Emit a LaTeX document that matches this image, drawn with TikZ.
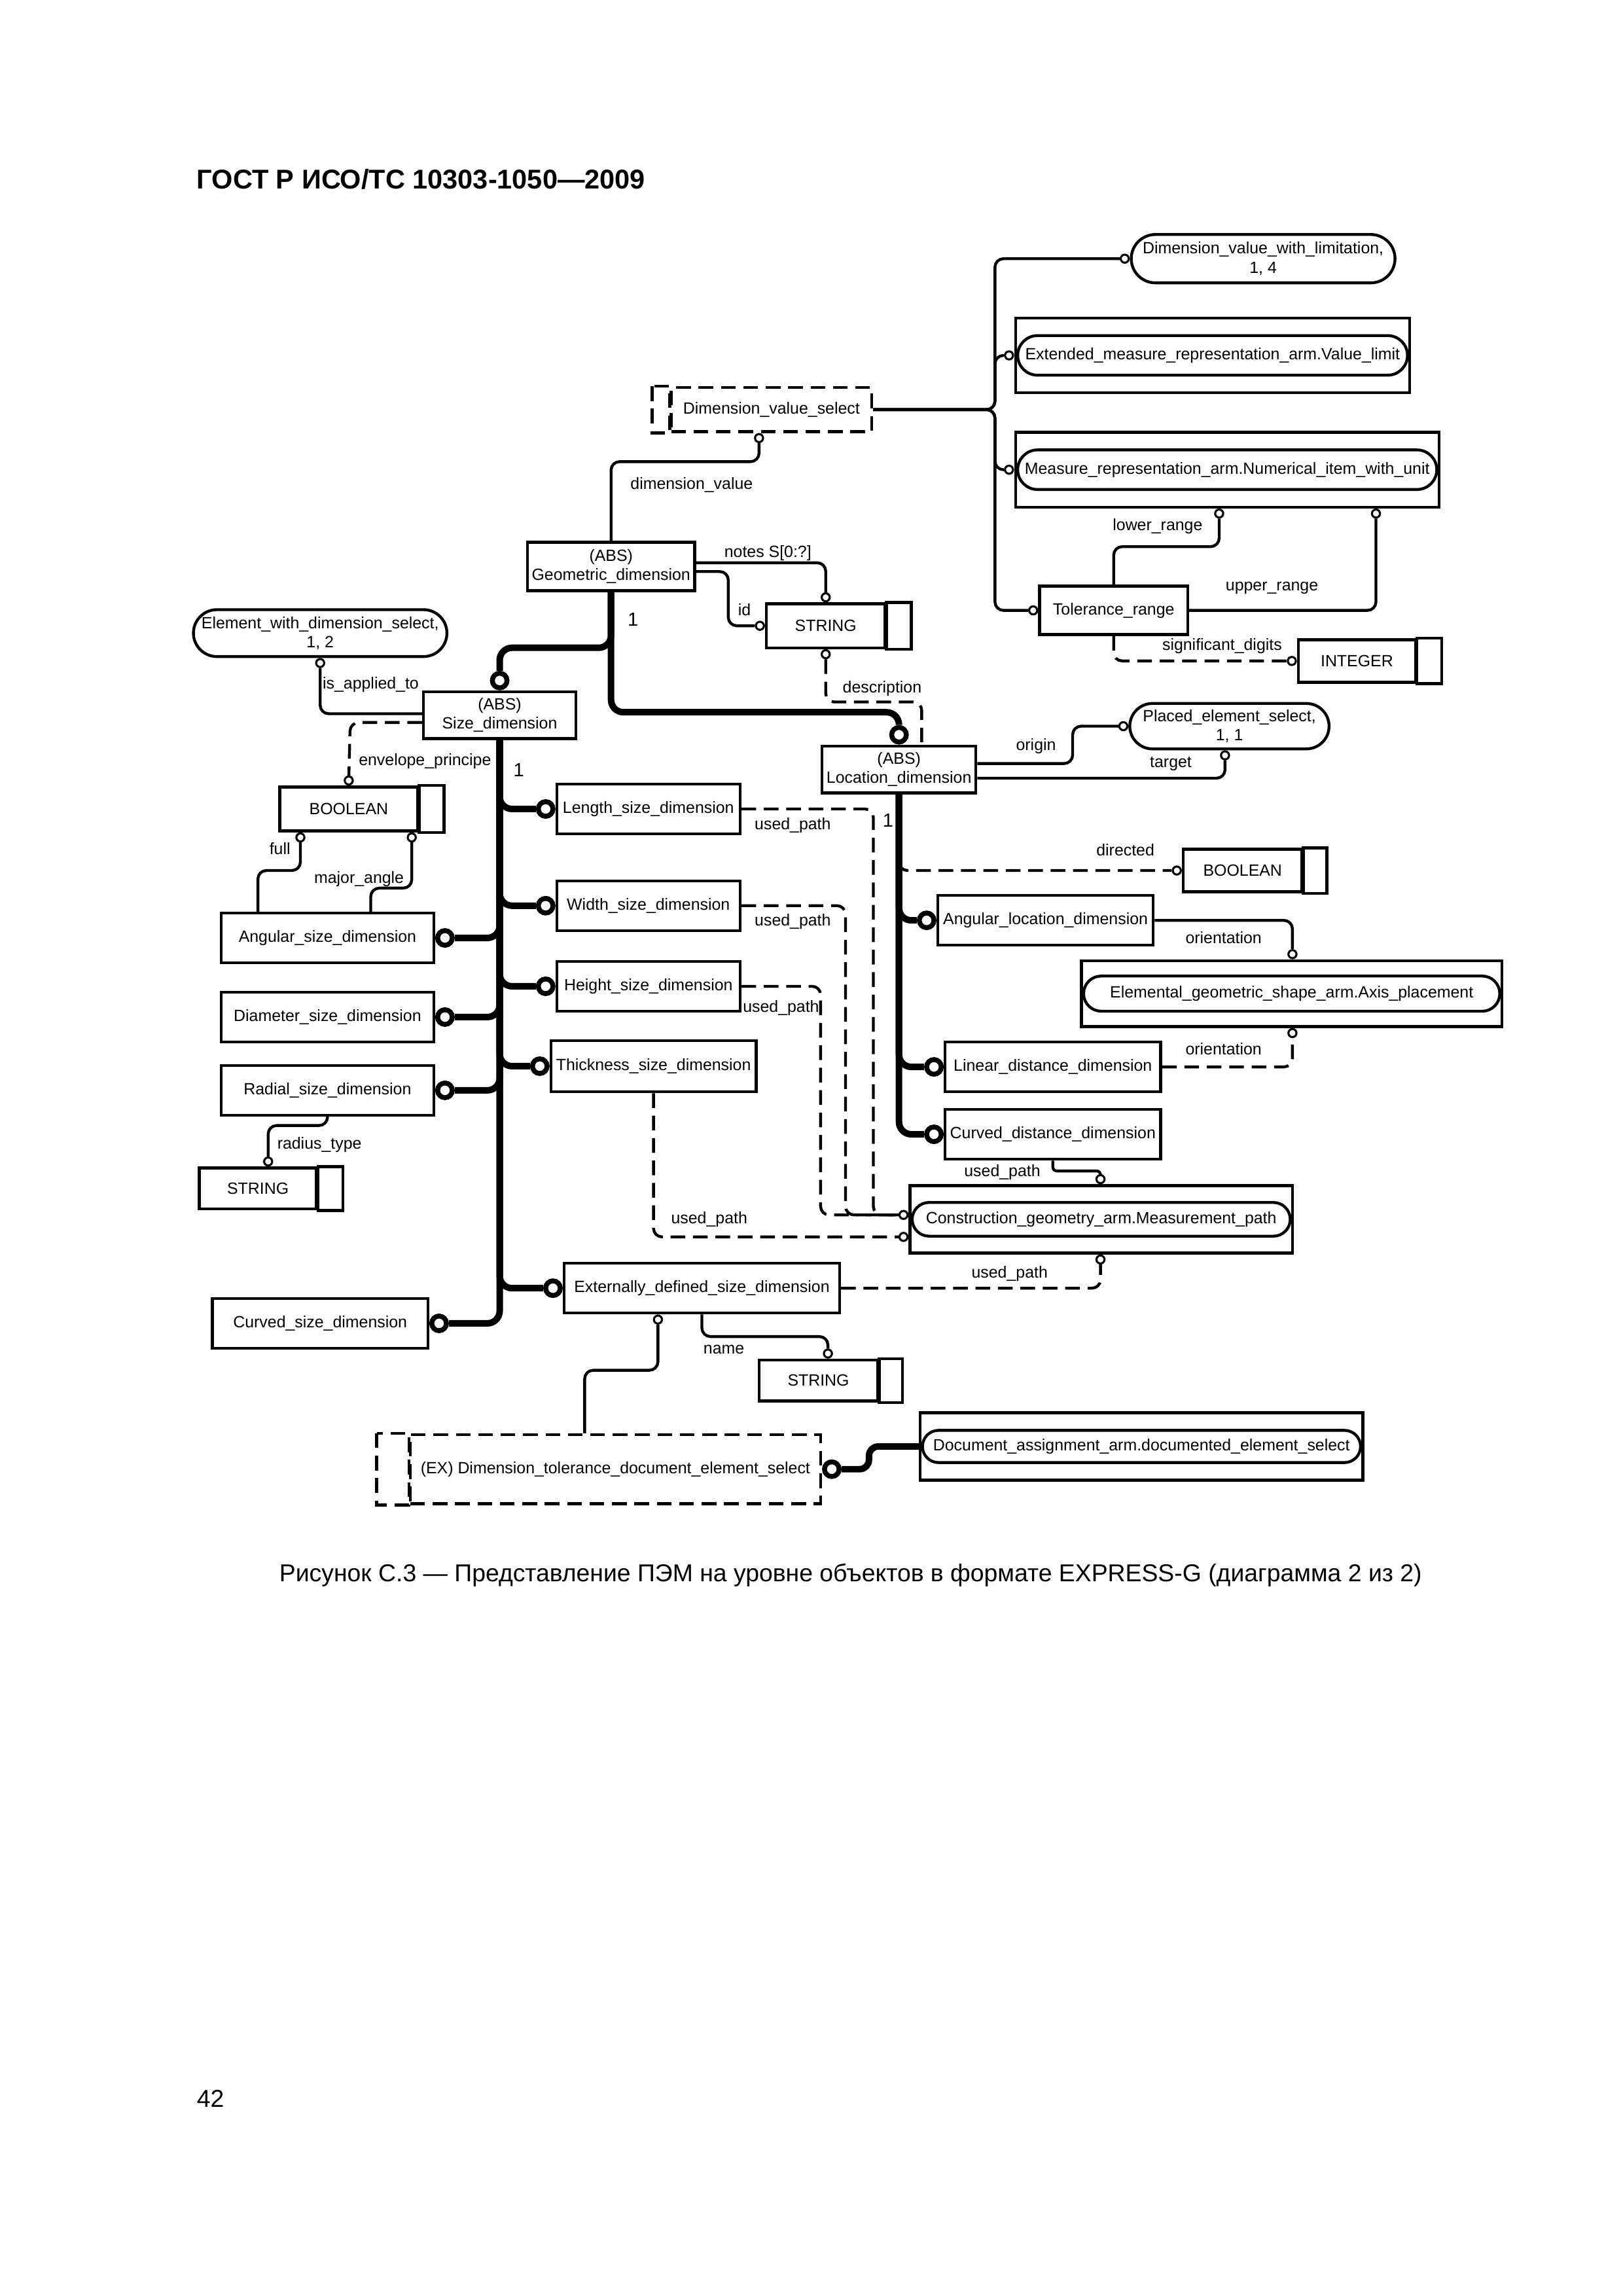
\documentclass[tikz,border=0pt]{standalone}
\usepackage{fontspec}
\setmainfont{Liberation Sans}
\usetikzlibrary{calc}
\newcommand\uu{0.18961mm}
\newcommand\fs{\fontsize{6}{7.1}\selectfont}
\tikzset{
  ent/.style={draw, rectangle, line width=1.05pt, inner sep=0.5pt, align=center, font=\fs},
  wh/.style 2 args={minimum width=#1*\uu, minimum height=#2*\uu},
  selb/.style={ent, dash pattern=on 1.9mm off 1mm},
  stad/.style={ent, rounded corners=#1*\uu},
  outerb/.style={draw, rectangle, line width=1.05pt, inner sep=0pt},
  pbox/.style={line width=1.05pt},
  dbox/.style={line width=1.05pt, dash pattern=on 1.9mm off 1mm},
  sc/.style={circle, draw, fill=white, line width=0.75pt, minimum size=5.5*\uu, inner sep=0pt},
  bc/.style={circle, draw, fill=white, line width=1.8pt, minimum size=10*\uu, inner sep=0pt},
  rel/.style={line width=1.05pt, rounded corners=1.1mm},
  thk/.style={line width=2.4pt, rounded corners=1.6mm},
  dsh/.style={dash pattern=on 1.9mm off 1mm},
  lbl/.style={font=\fs, inner sep=0pt},
  one/.style={font=\fontsize{7}{8}\selectfont, inner sep=0pt},
}
\begin{document}
\begin{tikzpicture}[x=0.18961mm, y=-0.18961mm]
\fill[white] (0,0) rectangle (1107.5,1566.7);
\useasboundingbox (0,0) rectangle (1107.5,1566.7);

% header, caption, page number
\node[anchor=base west, font=\fontsize{10}{12}\selectfont\bfseries, inner sep=0pt] (title) at (134,129) {ГОСТ Р ИСО/ТС 10303-1050—2009};
\node[anchor=base, font=\fontsize{9}{11}\selectfont, inner sep=0pt] (caption) at (580.5,1079) {Рисунок С.3 — Представление ПЭМ на уровне объектов в формате EXPRESS-G (диаграмма 2 из 2)};
\node[anchor=base west, font=\fontsize{9}{11}\selectfont, inner sep=0pt] (pagenum) at (134,1438) {42};

% ---------- boxes ----------
\node[stad=16.5, wh={180}{33}] (dvwl) at (862,176.5) {Dimension\_value\_with\_limitation,\\1, 4};
\node[outerb, wh={269}{51}] (emr) at (827.5,242.5) {};
\node[stad=13.5, wh={266}{27}] (emri) at (emr) {Extended\_measure\_representation\_arm.Value\_limit};
\node[outerb, wh={289}{51}] (mr) at (837.5,320.5) {};
\node[stad=13.5, wh={286}{27}] (mri) at (mr) {Measure\_representation\_arm.Numerical\_item\_with\_unit};
\node[selb, wh={137}{30}] (dvs) at (526.5,279.5) {Dimension\_value\_select};
\draw[dbox] ($(dvs.north west)+(-12,0)$) rectangle (dvs.south west);
\node[ent, wh={101}{33}] (tr) at (760,416.5) {Tolerance\_range};
\node[ent, wh={80}{29}] (ig) at (926,451) {INTEGER};
\draw[pbox] (ig.north east) rectangle ($(ig.south east)+(17,0)$);

\node[ent, wh={114}{33}] (gd) at (417,386.5) {(ABS)\\Geometric\_dimension};
\node[ent, wh={81}{30}] (s1) at (563.5,427) {STRING};
\draw[pbox] (s1.north east) rectangle ($(s1.south east)+(17,0)$);
\node[stad=16, wh={173}{32}] (ewds) at (218.5,432) {Element\_with\_dimension\_select,\\1, 2};
\node[ent, wh={104}{32}] (sz) at (341,488) {(ABS)\\Size\_dimension};
\node[ent, wh={105}{32}] (loc) at (613.5,525) {(ABS)\\Location\_dimension};
\node[stad=15.5, wh={136}{31}] (pes) at (839,495.5) {Placed\_element\_select,\\1, 1};

\node[ent, wh={94}{30}] (b1) at (238,552) {BOOLEAN};
\draw[pbox] (b1.north east) rectangle ($(b1.south east)+(17,0)$);
\node[ent, wh={81}{29}] (b2) at (848,594) {BOOLEAN};
\draw[pbox] (b2.north east) rectangle ($(b2.south east)+(16,0)$);

\node[ent, wh={125}{34}] (lsd) at (442.5,552) {Length\_size\_dimension};
\node[ent, wh={125}{34}] (wsd) at (442.5,618) {Width\_size\_dimension};
\node[ent, wh={125}{34}] (hsd) at (442.5,673) {Height\_size\_dimension};
\node[ent, wh={140}{35}] (tsd) at (446,727.5) {Thickness\_size\_dimension};
\node[ent, wh={188}{34}] (esd) at (479,879) {Externally\_defined\_size\_dimension};

\node[ent, wh={145}{34}] (asd) at (223.5,640) {Angular\_size\_dimension};
\node[ent, wh={145}{34}] (dsd) at (223.5,694) {Diameter\_size\_dimension};
\node[ent, wh={145}{34}] (rsd) at (223.5,744) {Radial\_size\_dimension};
\node[ent, wh={80}{28}] (s2) at (176,811) {STRING};
\draw[pbox] (s2.north east) rectangle ($(s2.south east)+(17,0)$);
\node[ent, wh={147}{34}] (csd) at (218.5,903) {Curved\_size\_dimension};

\node[ent, wh={81}{28}] (s3) at (558.5,942) {STRING};
\draw[pbox] (s3.north east) rectangle ($(s3.south east)+(16,0)$);
\node[selb, wh={280}{47}] (dtd) at (420,1002.5) {(EX) Dimension\_tolerance\_document\_element\_select};
\draw[dbox] ($(dtd.north west)+(-22,0)$) rectangle (dtd.south west);
\node[outerb, wh={302}{46}] (doc) at (779,987) {};
\node[stad=11, wh={299}{22}] (doci) at (doc) {Document\_assignment\_arm.documented\_element\_select};

\node[ent, wh={147}{34}] (ald) at (713.5,628) {Angular\_location\_dimension};
\node[outerb, wh={287}{45}] (egs) at (881.5,678) {};
\node[stad=12, wh={284}{24}] (egsi) at (egs) {Elemental\_geometric\_shape\_arm.Axis\_placement};
\node[ent, wh={147}{34}] (ldd) at (718.5,728) {Linear\_distance\_dimension};
\node[ent, wh={147}{34}] (cdd) at (718.5,774) {Curved\_distance\_dimension};
\node[outerb, wh={261}{46}] (cgm) at (751.5,832) {};
\node[stad=11.5, wh={258}{23}] (cgmi) at (cgm) {Construction\_geometry\_arm.Measurement\_path};

% ---------- small circles ----------
\node[sc, anchor=east] (odvwl) at (dvwl.west) {};
\node[sc, anchor=east] (oemr) at (emr.west) {};
\node[sc, anchor=east] (omr) at (mr.west) {};
\node[sc, anchor=east] (otr) at (tr.west) {};
\node[sc, anchor=north] (olr) at (832,0 |- mr.south) {};
\node[sc, anchor=north] (our) at (939,0 |- mr.south) {};
\node[sc, anchor=east] (oint) at (ig.west) {};
\node[sc, anchor=north] (odvs) at (518,0 |- dvs.south) {};
\node[sc, anchor=south] (onotes) at (s1.north) {};
\node[sc, anchor=east] (oid) at (s1.west) {};
\node[sc, anchor=north] (odesc) at (s1.south) {};
\node[sc, anchor=north] (oewds) at (ewds.south) {};
\node[sc, anchor=south] (oenv) at (b1.north) {};
\node[sc, anchor=north] (ofull) at (205,0 |- b1.south) {};
\node[sc, anchor=north] (omaj) at (281,0 |- b1.south) {};
\node[sc, anchor=south] (ort) at (183,0 |- s2.north) {};
\node[sc, anchor=south] (oname) at (565,0 |- s3.north) {};
\node[sc, anchor=north] (oesd) at (449,0 |- esd.south) {};
\node[sc, anchor=east] (opes1) at (pes.west) {};
\node[sc, anchor=north] (opes2) at (836,0 |- pes.south) {};
\node[sc, anchor=east] (odir) at (b2.west) {};
\node[sc, anchor=south] (oegs1) at (882,0 |- egs.north) {};
\node[sc, anchor=north] (oegs2) at (882,0 |- egs.south) {};
\node[sc, anchor=east] (ocg1) at (cgm.west |- 0,829) {};
\node[sc, anchor=east] (ocg2) at (cgm.west |- 0,844) {};
\node[sc, anchor=south] (ocg3) at (751,0 |- cgm.north) {};
\node[sc, anchor=north] (ocg4) at (751,0 |- cgm.south) {};

% ---------- big circles ----------
\node[bc, anchor=south] (Bsz) at (sz.north) {};
\node[bc, anchor=south] (Bloc) at (loc.north) {};
\foreach \n in {lsd,wsd,hsd,tsd,esd,ald,ldd,cdd}
  \node[bc, anchor=east] (B\n) at (\n.west) {};
\foreach \n in {asd,dsd,rsd,csd,dtd}
  \node[bc, anchor=west] (B\n) at (\n.east) {};

% ---------- connectors ----------
% Dimension_value_select
\draw[rel] (dvs.east) -- (679,279.5) -- (679,176.5) -- (odvwl);
\draw[rel] (dvs.east) -- (679,279.5) -- (679,242.5) -- (oemr);
\draw[rel] (dvs.east) -- (679,279.5) -- (679,320.5) -- (omr);
\draw[rel] (dvs.east) -- (679,279.5) -- (679,416.5) -- (otr);
\draw[rel] (gd.north) -- (417,315) -- (518,315) -- (odvs);
% Geometric_dimension attributes
\draw[rel] (gd.east |- 0,384) -- (563.5,384) -- (onotes);
\draw[rel] (gd.east |- 0,390) -- (497,390) -- (497,427) -- (oid);
\draw[rel, dsh] (odesc) -- (563.5,479) -- (629,479) -- (629,0 |- loc.north);
% subtypes of Geometric_dimension
\draw[thk] (gd.south) -- (417,442) -- (341,442) -- (Bsz);
\draw[thk] (gd.south) -- (417,486) -- (613.5,486) -- (Bloc);
% Tolerance_range
\draw[rel] (tr.north) -- (760,373) -- (832,373) -- (olr);
\draw[rel] (tr.east) -- (939,416.5) -- (our);
\draw[rel, dsh] (tr.south) -- (760,451) -- (oint);
% Size_dimension
\draw[rel] (oewds) -- (218.5,487) -- (sz.west |- 0,487);
\draw[rel, dsh] (sz.west |- 0,493) -- (239,493) -- (oenv);
\draw[rel] (ofull) -- (205,594) -- (176,594) -- (176,0 |- asd.north);
\draw[rel] (omaj) -- (281,606) -- (253,606) -- (253,0 |- asd.north);
\draw[rel] (rsd.south) -- (223.5,768) -- (183,768) -- (ort);
\foreach \n/\y in {lsd/552, wsd/618, hsd/673, tsd/727.5, esd/879, asd/640, dsd/694, rsd/744, csd/903}
  \draw[thk] (sz.south) -- (341,\y) -- (B\n);
% Location_dimension
\foreach \n/\y in {ald/628, ldd/728, cdd/774}
  \draw[thk] (loc.south) -- (613.5,\y) -- (B\n);
\draw[rel, dsh] (loc.south) -- (613.5,594) -- (odir);
\draw[rel] (loc.east |- 0,521) -- (732,521) -- (732,495.5) -- (opes1);
\draw[rel] (loc.east |- 0,531) -- (836,531) -- (opes2);
\draw[rel] (ald.east) -- (882,628) -- (oegs1);
\draw[rel, dsh] (ldd.east) -- (882,728) -- (oegs2);
\draw[rel, rounded corners=0.5mm] (cdd.south) -- (718.5,799) -- (751,799) -- (ocg3);
% used_path to Measurement_path
\draw[rel, dsh] (lsd.east) -- (596,552) -- (596,829) -- (ocg1);
\draw[rel, dsh] (wsd.east) -- (577,618) -- (577,829) -- (ocg1);
\draw[rel, dsh] (hsd.east) -- (560,673) -- (560,829) -- (ocg1);
\draw[rel, dsh] (tsd.south) -- (446,844) -- (ocg2);
\draw[rel, dsh] (esd.east) -- (751,879) -- (ocg4);
% Externally_defined_size_dimension
\draw[rel] (esd.south) -- (479,912) -- (565,912) -- (oname);
\draw[rel] (oesd) -- (449,935) -- (399,935) -- (399,0 |- dtd.north);
\draw[thk, rounded corners=1.2mm] (Bdtd) -- (593,1002.5) -- (593,987) -- (doc.west);

% ---------- labels ----------
\node[lbl] (ldv) at (472,331) {dimension\_value};
\node[lbl] (lnotes) at (524,377.5) {notes S[0:?]};
\node[lbl] (lid) at (508,416) {id};
\node[one] (lone1) at (432,422.5) {1};
\node[lbl] (ldesc) at (602,470) {description};
\node[lbl] (lapp) at (253,467) {is\_applied\_to};
\node[lbl] (lenv) at (290,519.5) {envelope\_principe};
\node[one] (lone2) at (354,525.5) {1};
\node[lbl] (lfull) at (191,579) {full};
\node[lbl] (lmaj) at (245,600) {major\_angle};
\node[lbl] (lrt) at (218,781) {radius\_type};
\node[lbl] (lup1) at (541,563) {used\_path};
\node[lbl] (lup2) at (541,629) {used\_path};
\node[lbl] (lup3) at (533,688) {used\_path};
\node[lbl] (lup4) at (484,832) {used\_path};
\node[lbl] (lup5) at (689,869) {used\_path};
\node[lbl] (lup6) at (684,800) {used\_path};
\node[lbl] (lname) at (494,921) {name};
\node[one] (lone3) at (606,560) {1};
\node[lbl] (lorig) at (707,509) {origin};
\node[lbl] (ltarg) at (799,521) {target};
\node[lbl] (ldir) at (768,580) {directed};
\node[lbl] (lor1) at (835,640) {orientation};
\node[lbl] (lor2) at (835,715.5) {orientation};
\node[lbl] (llow) at (790,359) {lower\_range};
\node[lbl] (lupr) at (868,401) {upper\_range};
\node[lbl] (lsig) at (834,441) {significant\_digits};
\end{tikzpicture}
\end{document}
